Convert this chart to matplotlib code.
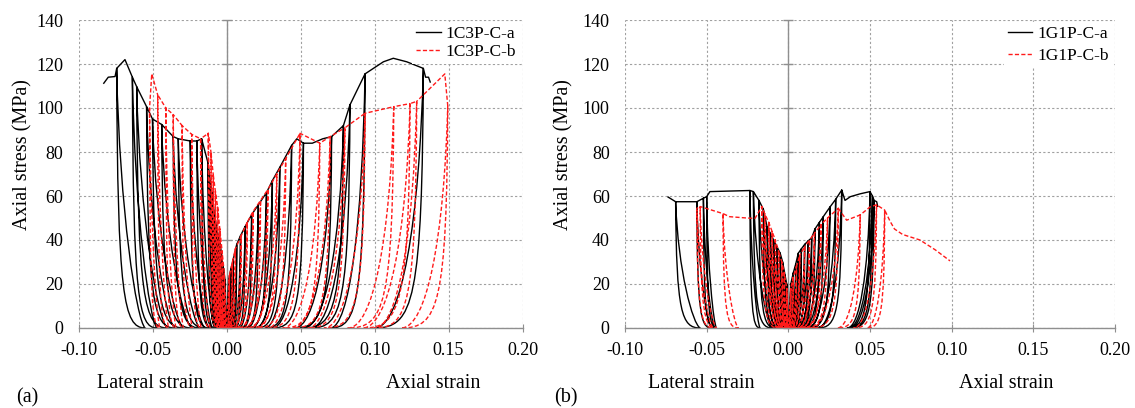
import matplotlib

matplotlib.use('Agg')
import matplotlib.pyplot as plt
from matplotlib.path import Path
from matplotlib.patches import PathPatch
import numpy as np

nan = np.nan

# ---------------- (a) 1C3P-C-a : cycle peaks (strain, stress) and residual strain
a_ax_peak_x = [0.0015, 0.003, 0.0045, 0.0069, 0.0095, 0.0125, 0.017, 0.0215, 0.027, 0.031, 0.036,
               0.044, 0.0475, 0.052, 0.058, 0.065, 0.071, 0.079, 0.0834, 0.0936, 0.106, 0.1127, 0.1218, 0.133]
a_ax_peak_y = [22, 27, 31, 38, 42, 46, 51.5, 56, 61.5, 67, 73,
               83, 86, 84, 84, 86, 87, 92, 101.4, 115.5, 121, 122.6, 121, 118]
a_ax_resid = [0.0004, 0.001, 0.0018, 0.003, 0.0045, 0.006, 0.0085, 0.011, 0.014, 0.017, 0.020,
              0.026, nan, 0.031, nan, nan, 0.046, 0.052, 0.057, 0.070, nan, nan, nan, 0.100]
a_ax_tail_x = [0.1345, 0.1365, 0.1378]
a_ax_tail_y = [114, 114, 111.5]

a_lat_peak_x = [-0.001, -0.002, -0.003, -0.0042, -0.0055, -0.0068, -0.008, -0.009, -0.0098, -0.011, -0.0125,
                -0.0168, -0.020, -0.0245, -0.0326, -0.036, -0.0438, -0.050, -0.054, -0.0607, -0.0636,
                -0.0686, -0.0742]
a_lat_peak_y = [22, 27, 31, 38, 42, 46, 51.5, 56, 61.5, 67, 75,
                86, 85, 85, 86, 87, 92.5, 95, 100.6, 109.7, 114,
                122, 118]
a_lat_resid = [-0.0002, -0.0005, -0.0009, -0.0013, -0.0018, -0.0023, -0.003, -0.0036, -0.0042, -0.005, -0.006,
               -0.008, -0.0095, -0.012, -0.0145, -0.018, -0.0235, -0.029, -0.035, -0.040, -0.047,
               nan, -0.055]
a_lat_tail_x = [-0.0753, -0.0799, -0.0832]
a_lat_tail_y = [114.3, 114, 111]

# ---------------- (a) 1C3P-C-b
b_ax_peak_x = [0.002, 0.004, 0.006, 0.010, 0.014, 0.018, 0.023, 0.028, 0.034, 0.040, 0.0497,
               0.063, 0.070, 0.080, 0.0936, 0.113, 0.124, 0.1285, 0.1475, 0.1495]
b_ax_peak_y = [24, 30, 36, 42, 48, 53, 58, 63, 70, 77, 88.5,
               84, 87, 91, 97.6, 100.6, 102, 103, 115.5, 101]
b_ax_resid = [0.0005, 0.0012, 0.002, 0.0035, 0.005, 0.007, 0.0095, 0.012, 0.016, 0.021, 0.028,
              0.038, 0.045, 0.055, 0.066, 0.082, 0.092, 0.100, nan, 0.118]

b_lat_peak_x = [-0.0015, -0.003, -0.0045, -0.006, -0.0075, -0.009, -0.0105, -0.0123,
                -0.0175, -0.0235, -0.030, -0.036, -0.041, -0.0465, -0.0505, -0.052]
b_lat_peak_y = [25, 35, 45, 55, 62, 70, 80, 88.5,
                86, 88, 92, 97, 100, 106, 115.5, 100]
b_lat_resid = [-0.0004, -0.001, -0.0018, -0.0026, -0.0033, -0.004, -0.005, -0.006,
               -0.011, -0.017, -0.023, -0.029, -0.034, -0.039, nan, -0.045]

# ---------------- (b) 1G1P-C-a
c_ax_peak_x = [0.0015, 0.003, 0.0045, 0.0061, 0.008, 0.010, 0.012, 0.0143, 0.0163, 0.019, 0.0214,
               0.0255, 0.029, 0.0327, 0.0347, 0.038, 0.044, 0.050, 0.0515, 0.0525]
c_ax_peak_y = [20, 25, 29, 34, 36, 38, 39.5, 41, 45, 48, 50.6,
               55, 58.5, 62.7, 58, 59.7, 61, 62, 60, 58]
c_ax_resid = [0.0003, 0.0008, 0.0013, 0.002, 0.0028, 0.0036, 0.0045, 0.0055, 0.0065, 0.008, 0.0095,
              0.012, 0.015, 0.018, nan, nan, nan, 0.036, 0.037, 0.038]
c_ax_tail_x = [0.0541, 0.0548]
c_ax_tail_y = [57.4, 55]

c_lat_peak_x = [-0.001, -0.002, -0.0035, -0.005, -0.007, -0.009, -0.011, -0.013, -0.0153, -0.018,
                -0.0214, -0.0235, -0.048, -0.050, -0.052, -0.056, -0.069]
c_lat_peak_y = [20, 24, 30, 34, 37, 40, 43, 46, 54, 58,
                62, 62.5, 62, 59.7, 59, 57.4, 57.4]
c_lat_resid = [-0.0002, -0.0005, -0.001, -0.0015, -0.002, -0.003, -0.004, -0.005, -0.006, -0.008,
               -0.010, -0.0173, nan, -0.044, -0.045, -0.047, -0.054]
c_lat_tail_x = [-0.074]
c_lat_tail_y = [59.7]

# ---------------- (b) 1G1P-C-b
d_ax_peak_x = [0.0015, 0.003, 0.005, 0.007, 0.010, 0.013, 0.016, 0.020, 0.024, 0.0306,
               0.0357, 0.044, 0.050, 0.054, 0.059]
d_ax_peak_y = [18, 23, 28, 33, 37, 40, 43, 47, 50, 54.4,
               49, 51.4, 55, 56, 53.6]
d_ax_resid = [0.0003, 0.0008, 0.0014, 0.002, 0.003, 0.0045, 0.006, 0.008, 0.010, 0.014,
              nan, 0.030, nan, 0.040, 0.048]
d_ax_tail_x = [0.0623, 0.065, 0.070, 0.0806, 0.090, 0.099]
d_ax_tail_y = [48.5, 45, 42.5, 40, 35.5, 30.5]

d_lat_peak_x = [-0.001, -0.0025, -0.004, -0.006, -0.008, -0.010, -0.012, -0.0145, -0.0163,
                -0.0204, -0.0255, -0.036, -0.040, -0.054, -0.056]
d_lat_peak_y = [18, 25, 30, 35, 40, 44, 48, 52, 55.2,
                49.8, 50, 50.6, 52, 55.2, 54.4]
d_lat_resid = [-0.0002, -0.0006, -0.001, -0.0015, -0.002, -0.003, -0.004, -0.005, -0.0065,
               nan, nan, nan, -0.0306, -0.044, -0.046]

xticks = [-0.10, -0.05, 0.00, 0.05, 0.10, 0.15, 0.20]
xtick_labels = ['-0.10', '-0.05', '0.00', '0.05', '0.10', '0.15', '0.20']
yticks = [0, 20, 40, 60, 80, 100, 120, 140]
legend_a = ['1C3P-C-a', '1C3P-C-b']
legend_b = ['1G1P-C-a', '1G1P-C-b']

plt.rcParams['font.family'] = ['Liberation Serif', 'DejaVu Serif']

GRAY = '#8f8f8f'
RED = '#ff1a1a'
DASH = (0, (3, 1.6))
W, H = 1135, 408


def loop_path(peak_x, peak_y, resid, tail_x=(), tail_y=(), side='axial'):
    """Envelope through the cycle peaks, each cycle unloads to its residual strain and reloads."""
    if side == 'axial':
        ku = (0.02, 0.10, 0.20)
        kr = (0.55, 0.0, 0.08, 0.40)
    else:
        ku = (0.03, 0.12, 0.25)
        kr = (0.30, 0.03, 0.10, 0.45)
    verts = [(0.0, 0.0)]
    codes = [Path.MOVETO]
    for p, s, r in zip(peak_x, peak_y, resid):
        verts.append((p, s))
        codes.append(Path.LINETO)
        if np.isnan(r):
            continue
        d = p - r
        verts += [(p - ku[0] * d, ku[1] * s), (p - ku[2] * d, 0.0), (r, 0.0)]
        verts += [(r + kr[0] * d, kr[1] * s), (p - kr[2] * d, kr[3] * s), (p, s)]
        codes += [Path.CURVE4] * 6
    for x, y in zip(tail_x, tail_y):
        verts.append((x, y))
        codes.append(Path.LINETO)
    return Path(verts, codes)


def setup_axes(ax):
    ax.set_xlim(-0.10, 0.20)
    ax.set_ylim(0, 140)
    ax.set_xticks(xticks)
    ax.set_xticklabels(xtick_labels)
    ax.set_yticks(yticks)
    ax.set_axisbelow(True)
    ax.grid(True, color='#a0a0a0', linestyle=(0, (2, 2)), linewidth=0.8)
    for side in ['top', 'right', 'left']:
        ax.spines[side].set_visible(False)
    ax.spines['bottom'].set_color(GRAY)
    ax.spines['bottom'].set_linewidth(1.0)
    ax.tick_params(axis='x', direction='inout', length=6, color=GRAY, labelsize=13, pad=7)
    ax.tick_params(axis='y', length=0, labelsize=13, pad=11)
    ax.axvline(0, color=GRAY, lw=1.0, zorder=0.8)
    ax.plot(np.zeros(len(yticks)), yticks, ls='none', marker='_', ms=7, mew=1.0,
            color=GRAY, clip_on=False, zorder=0.8)


def draw(ax, path, color, ls):
    ax.add_patch(PathPatch(path, fill=False, edgecolor=color, lw=1.0, linestyle=ls,
                           joinstyle='round', capstyle='butt'))


fig = plt.figure(figsize=(W / 100, H / 100), dpi=100)
ax1 = fig.add_axes([78.5 / W, 80 / H, 444 / W, 308 / H])
ax2 = fig.add_axes([625 / W, 80 / H, 490 / W, 308 / H])

for ax in (ax1, ax2):
    setup_axes(ax)

# panel (a)
draw(ax1, loop_path(a_ax_peak_x, a_ax_peak_y, a_ax_resid, a_ax_tail_x, a_ax_tail_y, 'axial'), 'black', '-')
draw(ax1, loop_path(a_lat_peak_x, a_lat_peak_y, a_lat_resid, a_lat_tail_x, a_lat_tail_y, 'lateral'), 'black', '-')
draw(ax1, loop_path(b_ax_peak_x, b_ax_peak_y, b_ax_resid, side='axial'), RED, DASH)
draw(ax1, loop_path(b_lat_peak_x, b_lat_peak_y, b_lat_resid, side='lateral'), RED, DASH)

# panel (b)
draw(ax2, loop_path(c_ax_peak_x, c_ax_peak_y, c_ax_resid, c_ax_tail_x, c_ax_tail_y, 'axial'), 'black', '-')
draw(ax2, loop_path(c_lat_peak_x, c_lat_peak_y, c_lat_resid, c_lat_tail_x, c_lat_tail_y, 'lateral'), 'black', '-')
draw(ax2, loop_path(d_ax_peak_x, d_ax_peak_y, d_ax_resid, d_ax_tail_x, d_ax_tail_y, 'axial'), RED, DASH)
draw(ax2, loop_path(d_lat_peak_x, d_lat_peak_y, d_lat_resid, side='lateral'), RED, DASH)

for ax, labels, spacing in ((ax1, legend_a, 0.1), (ax2, legend_b, 0.3)):
    ax.plot([], [], color='black', lw=1.0, label=labels[0])
    ax.plot([], [], color=RED, lw=1.0, ls=DASH, label=labels[1])
    leg = ax.legend(loc='upper right', fontsize=12.5, handlelength=1.4, handletextpad=0.3,
                    labelspacing=spacing, borderaxespad=0.1, borderpad=0.25,
                    frameon=True, fancybox=False)
    leg.get_frame().set_edgecolor('none')
    leg.get_frame().set_facecolor('white')
    leg.get_frame().set_alpha(1.0)

# axis titles and panel labels
for x in (22.5, 563.5):
    fig.text(x / W, 1 - 155 / H, 'Axial stress (MPa)', rotation=90, ha='center', va='center', fontsize=14.5)
for x, txt in ((150, 'Lateral strain'), (433, 'Axial strain'), (701, 'Lateral strain'), (1006, 'Axial strain')):
    fig.text(x / W, 1 - 384 / H, txt, ha='center', va='center', fontsize=14.5)
fig.text(27 / W, 1 - 398 / H, '(a)', ha='center', va='center', fontsize=14.5)
fig.text(566 / W, 1 - 398 / H, '(b)', ha='center', va='center', fontsize=14.5)

fig.savefig('out.png', dpi=100)
plt.close(fig)
